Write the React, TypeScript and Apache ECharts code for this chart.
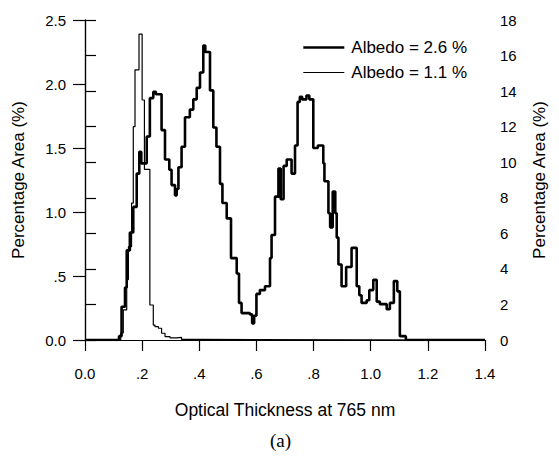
import React, { useEffect, useRef } from "react";
import * as echarts from "echarts";

// Albedo = 2.6 % (left axis, %) : bin left edges and values
const thickX = [0, 0.119, 0.128, 0.140, 0.146, 0.157, 0.169, 0.181, 0.190, 0.197, 0.216, 0.227, 0.239, 0.248, 0.268, 0.280, 0.295, 0.303, 0.315, 0.321, 0.327, 0.338, 0.350, 0.367, 0.379, 0.391, 0.4025, 0.414, 0.421, 0.4375, 0.449, 0.460, 0.4725, 0.481, 0.496, 0.511, 0.531, 0.539, 0.548, 0.577, 0.585, 0.592, 0.600, 0.612, 0.630, 0.6475, 0.653, 0.665, 0.677, 0.685, 0.695, 0.706, 0.723, 0.735, 0.744, 0.752, 0.760, 0.775, 0.785, 0.799, 0.815, 0.834, 0.838, 0.852, 0.858, 0.867, 0.876, 0.881, 0.887, 0.898, 0.914, 0.933, 0.951, 0.960, 0.968, 0.986, 0.995, 1.009, 1.021, 1.032, 1.056, 1.067, 1.081, 1.093, 1.102, 1.123, 1.4];
const thickY = [0, 0.03, 0.26, 0.41, 0.70, 0.84, 1.04, 1.30, 1.47, 1.38, 1.59, 1.89, 1.94, 1.92, 1.64, 1.41, 1.33, 1.21, 1.13, 1.18, 1.35, 1.51, 1.74, 1.80, 1.88, 1.97, 2.09, 2.30, 2.25, 1.95, 1.66, 1.51, 1.22, 1.07, 0.95, 0.64, 0.52, 0.29, 0.21, 0.20, 0.13, 0.19, 0.36, 0.39, 0.42, 0.64, 0.82, 1.12, 1.34, 1.10, 1.36, 1.41, 1.30, 1.52, 1.86, 1.90, 1.88, 1.91, 1.88, 1.50, 1.52, 1.38, 1.24, 0.99, 0.88, 1.16, 0.99, 0.80, 0.59, 0.42, 0.57, 0.72, 0.42, 0.35, 0.29, 0.31, 0.39, 0.47, 0.30, 0.28, 0.24, 0.29, 0.46, 0.38, 0.03, 0, 0];

// Albedo = 1.1 % (right axis, %) : bin left edges and values
const thinX = [0, 0.125, 0.134, 0.146, 0.152, 0.163, 0.169, 0.175, 0.189, 0.200, 0.208, 0.227, 0.239, 0.245, 0.257, 0.268, 0.280, 0.2975, 0.321, 0.338, 0.40, 1.4];
const thinY = [0, 0.4, 1.69, 3.4, 5.25, 7.7, 12.0, 15.2, 17.2, 13.5, 9.6, 1.97, 0.84, 0.75, 0.66, 0.38, 0.19, 0.12, 0.15, 0.03, 0, 0];

const xTickLabels: Record<string, string> = { "0": "0.0", "0.2": ".2", "0.4": ".4", "0.6": ".6", "0.8": ".8", "1": "1.0", "1.2": "1.2", "1.4": "1.4" };
const leftTickLabels: Record<string, string> = { "0": "0.0", "0.5": ".5", "1": "1.0", "1.5": "1.5", "2": "2.0", "2.5": "2.5" };

const seriesNames = ["Albedo = 2.6 %", "Albedo = 1.1 %"];
const xTitle = "Optical Thickness at 765 nm";
const yTitle = "Percentage Area (%)";
const caption = "(a)";

const FONT = "'Liberation Sans', Arial, Helvetica, sans-serif";

export default function App() {
  const ref = useRef<HTMLDivElement>(null);
  useEffect(() => {
    if (!ref.current) return;
    const chart = echarts.init(ref.current, undefined, { renderer: "svg" });
    const axisLine = { show: true, lineStyle: { color: "#000", width: 1.2 } };
    const fmtKey = (v: number) => String(Math.round(v * 100) / 100);
    const hiddenDot = { color: "rgba(0,0,0,0)", opacity: 0, borderWidth: 0 };
    chart.setOption({
      animation: false,
      backgroundColor: "#fff",
      grid: { left: 85, right: 74, top: 20, bottom: 121, show: false },
      legend: {
        orient: "vertical",
        left: 302,
        top: 39,
        padding: 0,
        itemWidth: 41,
        itemHeight: 14,
        itemGap: 8,
        selectedMode: false,
        textStyle: { fontFamily: FONT, fontSize: 17, color: "#000", padding: [0, 0, 0, 2] },
        data: [
          { name: seriesNames[0], itemStyle: hiddenDot, lineStyle: { color: "#000", width: 2.6, opacity: 1 } },
          { name: seriesNames[1], itemStyle: hiddenDot, lineStyle: { color: "#000", width: 1.2, opacity: 1 } },
        ],
      },
      xAxis: [
        {
          type: "value",
          min: 0,
          max: 1.4,
          interval: 0.2,
          name: xTitle,
          nameLocation: "middle",
          nameGap: 61,
          nameTextStyle: { fontFamily: FONT, fontSize: 17.5, color: "#000" },
          axisLine,
          axisTick: { show: true, inside: false, length: 11, lineStyle: { color: "#000", width: 1.2 } },
          axisLabel: {
            margin: 26,
            fontFamily: FONT,
            fontSize: 15,
            color: "#000",
            formatter: (v: number) => xTickLabels[fmtKey(v)] ?? String(v),
          },
          splitLine: { show: false },
        },
        {
          type: "value",
          position: "top",
          min: 0,
          max: 1.4,
          interval: 0.2,
          axisLine,
          axisTick: { show: false },
          axisLabel: { show: false },
          splitLine: { show: false },
        },
      ],
      yAxis: [
        {
          type: "value",
          min: 0,
          max: 2.5,
          interval: 0.5,
          position: "left",
          name: yTitle,
          nameLocation: "middle",
          nameGap: 58,
          nameTextStyle: { fontFamily: FONT, fontSize: 17, color: "#000" },
          axisLine,
          axisTick: { show: true, inside: false, length: 12, lineStyle: { color: "#000", width: 1.2 } },
          axisLabel: {
            margin: 19,
            fontFamily: FONT,
            fontSize: 15,
            color: "#000",
            formatter: (v: number) => leftTickLabels[fmtKey(v)] ?? String(v),
          },
          splitLine: { show: false },
        },
        {
          type: "value",
          min: 0,
          max: 18,
          interval: 2,
          position: "right",
          name: yTitle,
          nameLocation: "middle",
          nameGap: 46,
          nameTextStyle: { fontFamily: FONT, fontSize: 17, color: "#000" },
          axisLine,
          axisTick: { show: true, inside: false, length: 11, lineStyle: { color: "#000", width: 1.2 } },
          axisLabel: { margin: 15, fontFamily: FONT, fontSize: 15, color: "#000" },
          splitLine: { show: false },
        },
      ],
      series: [
        {
          name: seriesNames[0],
          type: "line",
          step: "end",
          xAxisIndex: 0,
          yAxisIndex: 0,
          symbol: "none",
          lineStyle: { color: "#000", width: 2.6 },
          itemStyle: { color: "#000" },
          data: thickX.map((x, i) => [x, thickY[i]]),
          z: 3,
        },
        {
          name: seriesNames[1],
          type: "line",
          step: "end",
          xAxisIndex: 0,
          yAxisIndex: 1,
          symbol: "none",
          lineStyle: { color: "#000", width: 1.2 },
          itemStyle: { color: "#000" },
          data: thinX.map((x, i) => [x, thinY[i]]),
          z: 2,
        },
      ],
      graphic: [
        {
          type: "text",
          left: 270,
          top: 431,
          style: { text: caption, fontFamily: "'Liberation Serif', 'Times New Roman', serif", fontSize: 19, fill: "#000" },
        },
      ],
    });
    return () => chart.dispose();
  }, []);
  return <div ref={ref} style={{ width: 559, height: 461, margin: -8 }} />;
}
